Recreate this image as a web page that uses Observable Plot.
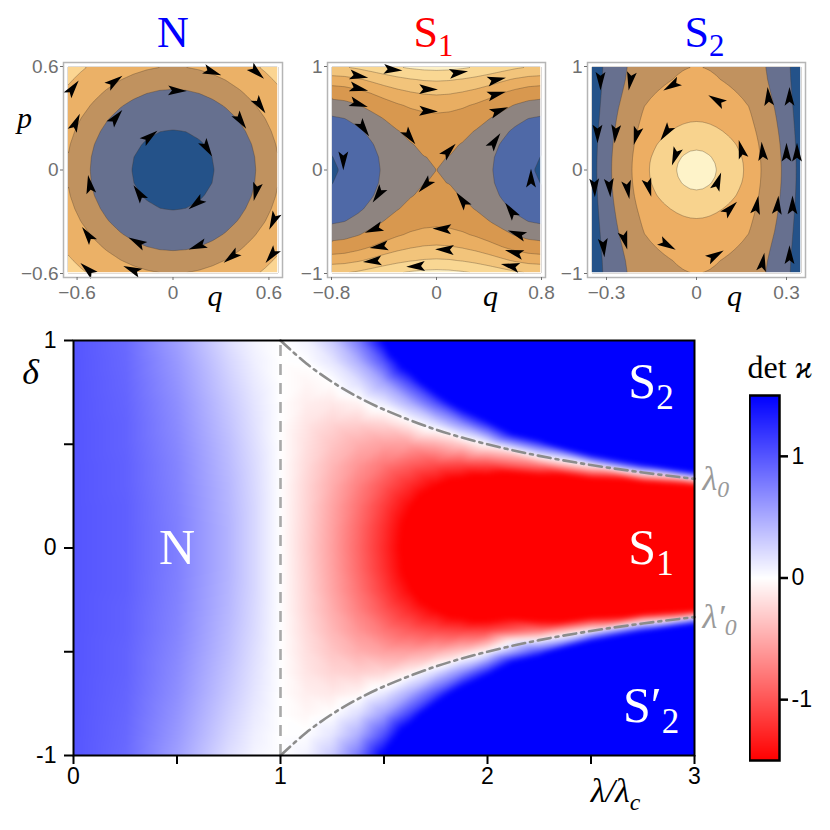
<!DOCTYPE html>
<html><head><meta charset="utf-8">
<script src="https://cdn.jsdelivr.net/npm/d3@7"></script>
<script src="https://cdn.jsdelivr.net/npm/@observablehq/plot@0.6"></script>
<style>
html,body{margin:0;padding:0;background:#fff;}
#chart{position:relative;width:830px;height:830px;overflow:hidden;background:#fff;}
#chart svg{position:absolute;background:transparent;max-width:none;}
</style></head>
<body><div id="chart"></div>
<script>
// ================= DATA =================
// main map: det(kappa) read over lambda/lambda_c (rows) and |delta| (columns)
const lambdaGrid = [0, 0.25, 0.5, 0.75, 0.875, 1, 1.125, 1.25, 1.375, 1.5, 1.625, 1.75, 1.875, 2, 2.25, 2.5, 2.75, 3];
const deltaGrid = [0, 0.1, 0.2, 0.3, 0.4, 0.5, 0.6, 0.7, 0.8, 0.9, 1];
const detRows = [
  [1, 1, 1, 1, 1, 1, 1, 1, 1, 1, 1],
  [0.94, 0.94, 0.94, 0.93, 0.93, 0.92, 0.92, 0.91, 0.9, 0.89, 0.88],
  [0.75, 0.75, 0.74, 0.73, 0.72, 0.7, 0.68, 0.66, 0.63, 0.6, 0.56],
  [0.44, 0.44, 0.43, 0.42, 0.4, 0.38, 0.35, 0.32, 0.28, 0.24, 0.19],
  [0.23, 0.23, 0.23, 0.22, 0.21, 0.19, 0.17, 0.15, 0.12, 0.09, 0.06],
  [0, 0, 0, 0, 0, 0, 0, 0, 0, 0, 0],
  [-0.27, -0.26, -0.25, -0.24, -0.21, -0.18, -0.15, -0.1, -0.05, 0.01, 0.07],
  [-0.56, -0.55, -0.53, -0.48, -0.42, -0.34, -0.25, -0.13, 0, 0.15, 0.32],
  [-0.89, -0.87, -0.82, -0.74, -0.62, -0.47, -0.28, -0.07, 0.19, 0.47, 0.79],
  [-1.25, -1.22, -1.14, -1.0, -0.8, -0.55, -0.24, 0.13, 0.55, 1.03, 1.56],
  [-1.64, -1.6, -1.47, -1.25, -0.95, -0.56, -0.08, 0.48, 1.13, 1.87, 2.69],
  [-2.06, -2.0, -1.81, -1.49, -1.05, -0.48, 0.21, 1.03, 1.98, 3, 3],
  [-2.52, -2.43, -2.16, -1.72, -1.1, -0.31, 0.67, 1.82, 3, 3, 3],
  [-3, -2.88, -2.52, -1.92, -1.08, 0, 1.32, 2.88, 3, 3, 3],
  [-3, -3, -3, -2.21, -0.77, 1.08, 3, 3, 3, 3, 3],
  [-3, -3, -3, -2.3, 0, 2.95, 3, 3, 3, 3, 3],
  [-3, -3, -3, -2.1, 1.38, 3, 3, 3, 3, 3, 3],
  [-3, -3, -3, -1.52, 3, 3, 3, 3, 3, 3, 3]
];
// phase boundary lambda_0 (dash-dot) and critical coupling (dashed)
const boundaryLambda = [1, 1.125, 1.25, 1.375, 1.5, 1.75, 2, 2.25, 2.5, 2.75, 3];
const boundaryDelta = [1, 0.889, 0.8, 0.727, 0.667, 0.571, 0.5, 0.444, 0.4, 0.364, 0.333];
const criticalLambda = [1];
const xTicksMain = [0, 0.5, 1, 1.5, 2, 2.5, 3];
const yTicksMain = [-1, -0.5, 0, 0.5, 1];
const colorbarTicks = [-1, 0, 1];
const colorDomain = [-1.5, 0, 1.5];
const colorRange = ["#ff0000", "#ffffff", "#0000ff"];
const regionNames = ["N", "S_2", "S_1", "S′_2"];
const regionLambda = [0.5, 2.79, 2.79, 2.79];
const regionDelta = [0, 0.8, 0, -0.76];
const edgeNames = ["λ_0", "λ′_0"];
const edgeDelta = [0.333, -0.333];

// phase-space panels: separable energy samples (q part + p part), band levels, colors, arrows [q, p, heading°]
const nQ = [0, 0.0825, 0.165, 0.2475, 0.33, 0.4125, 0.495, 0.5775, 0.66];
const nQTerm = [0, 0.015, 0.062, 0.139, 0.247, 0.385, 0.555, 0.755, 0.986];
const nP = [0, 0.075, 0.15, 0.225, 0.3, 0.375, 0.45, 0.525, 0.6];
const nPTerm = [0, 0.016, 0.063, 0.141, 0.25, 0.391, 0.563, 0.766, 1.0];
const nLevels = [0.152, 0.61, 1.0, 1.653];
const nColors = ["#245289", "#66708f", "#c0925f", "#ebb167", "#fbd592"];
const nArrows = [[-0.63,0.47,37],[-0.61,0.27,24],[-0.37,0.51,54],[-0.36,0.30,40],[0.02,0.46,92],[0.24,0.57,110],[0.52,0.57,132],[0.54,0.38,145],[0.42,0.29,145],[-0.15,0.19,52],[0.21,0.13,148],[-0.52,-0.09,350],[-0.21,-0.14,326],[0.15,-0.19,232],[0.52,-0.12,193],[0.63,-0.29,205],[0.62,-0.49,218],[0.37,-0.50,233],[0.16,-0.44,250],[-0.22,-0.42,298],[-0.25,-0.58,293],[-0.53,-0.58,312],[-0.53,-0.38,324]];

const s1Q = [0, 0.1, 0.2, 0.3, 0.4, 0.5, 0.6, 0.7, 0.8];
const s1QTerm = [0, -0.021, -0.081, -0.175, -0.293, -0.421, -0.542, -0.633, -0.67];
const s1P = [0, 0.125, 0.25, 0.375, 0.5, 0.625, 0.75, 0.875, 1];
const s1PTerm = [0, 0.016, 0.066, 0.158, 0.304, 0.521, 0.833, 1.267, 1.856];
const s1Levels = [-0.65, -0.33, 0, 0.39, 0.77, 1.21, 1.68];
const s1Colors = ["#245289", "#4f69a7", "#8e8480", "#d8984f", "#e9ae62", "#f2c47b", "#f9d793", "#fdf0c6"];
const s1Arrows = [[-0.60,0.91,100],[-0.34,0.97,95],[0.16,0.94,82],[0.45,0.87,78],[-0.60,0.79,103],[-0.07,0.78,91],[0.45,0.73,75],[-0.60,0.64,108],[-0.07,0.57,92],[0.47,0.57,70],[0.44,0.27,35],[-0.56,0.41,145],[-0.71,0.10,180],[-0.21,0.33,143],[0.09,0.18,44],[-0.08,-0.14,224],[0.2,-0.3,323],[-0.44,-0.23,215],[-0.47,-0.57,250],[-0.43,-0.74,262],[-0.48,-0.88,265],[-0.15,-0.93,268],[0.05,-0.57,272],[0.07,-0.77,272],[0.62,-0.62,290],[0.6,-0.8,285],[0.57,-0.93,282],[0.57,-0.4,325],[0.72,-0.09,0]];

const s2Q = [0, 0.021875, 0.04375, 0.065625, 0.0875, 0.109375, 0.13125, 0.153125, 0.175, 0.21875, 0.2625, 0.30625, 0.35];
const s2QTerm = [0, 0.0075, 0.03, 0.068, 0.12, 0.18, 0.25, 0.34, 0.45, 1.05, 1.75, 2.8, 5.0];
const s2P = [0, 0.0625, 0.125, 0.1875, 0.25, 0.3125, 0.375, 0.4375, 0.5, 0.625, 0.75, 0.875, 1];
const s2PTerm = [0, 0.008, 0.03, 0.066, 0.11, 0.17, 0.24, 0.32, 0.40, 0.57, 0.74, 0.9, 1.0];
const s2Levels = [0.07, 0.36, 1.0, 2.24, 4.1];
const s2Colors = ["#fef3c9", "#f8d38e", "#edae63", "#c1925f", "#67708f", "#245289"];
const s2Arrows = [[-0.32,0.87,180],[-0.22,0.87,190],[-0.33,0.36,180],[-0.27,0.36,185],[-0.2,0.34,195],[-0.34,-0.16,178],[-0.29,-0.16,175],[-0.23,-0.18,170],[-0.31,-0.74,175],[-0.24,-0.67,165],[-0.08,0.82,240],[-0.1,0.37,215],[-0.16,-0.16,165],[-0.1,-0.72,120],[-0.07,0.14,200],[0.07,0.67,300],[0.15,0.19,345],[0.22,0.17,355],[0.3,0.16,0],[0.335,0.16,0],[0.24,0.7,355],[0.31,0.7,0],[0.07,-0.12,20],[0.11,-0.38,45],[0.2,-0.35,10],[0.27,-0.35,5],[0.32,-0.35,0],[0.06,-0.83,60],[0.22,-0.9,10],[0.31,-0.83,0]];

// ================= RENDERING =================
const serif = "'Liberation Serif', 'DejaVu Serif', serif";
const sans = "'Liberation Sans', Arial, Helvetica, sans-serif";
const chart = document.getElementById("chart");
const NS = "http://www.w3.org/2000/svg";

function richText(svg) {
  svg.querySelectorAll("text").forEach(t => {
    const s = t.textContent;
    if (!s.includes("_") && !s.includes("ϰ")) return;
    const fs = parseFloat(getComputedStyle(t).fontSize) || 16;
    t.textContent = "";
    let shift = 0;
    for (let i = 0; i < s.length; i++) {
      const ts = document.createElementNS(NS, "tspan");
      let target = 0;
      if (s[i] === "_") {
        ts.textContent = s[i + 1];
        ts.setAttribute("font-size", (fs * 0.7).toFixed(1));
        target = fs * 0.22;
        i++;
      } else {
        ts.textContent = s[i];
        if (s[i] === "ϰ") ts.setAttribute("font-style", "italic");
      }
      if (target !== shift) { ts.setAttribute("dy", (target - shift).toFixed(1)); shift = target; }
      t.appendChild(ts);
    }
  });
}

function place(svg, left, top) {
  svg.style.position = "absolute";
  svg.style.left = left + "px";
  svg.style.top = top + "px";
  svg.style.background = "transparent";
  chart.appendChild(svg);
  richText(svg);
}

function fieldTable(qs, qTerm, ps, pTerm) {
  const out = [];
  qs.forEach((q, i) => (q === 0 ? [1] : [-1, 1]).forEach(sq =>
    ps.forEach((p, j) => (p === 0 ? [1] : [-1, 1]).forEach(sp =>
      out.push({q: sq * q, p: sp * p, h: qTerm[i] + pTerm[j]})))));
  return out;
}

const dart = {
  draw(ctx, size) {
    const s = Math.sqrt(size / Math.PI);
    ctx.moveTo(0, -1.25 * s);
    ctx.lineTo(0.58 * s, 0.95 * s);
    ctx.lineTo(0, 0.5 * s);
    ctx.lineTo(-0.58 * s, 0.95 * s);
    ctx.closePath();
  }
};

const panelTick = d => d === 0 ? "0" : (d < 0 ? "−" : "") + Math.abs(d);

function makePanel(cfg) {
  const table = fieldTable(cfg.qs, cfg.qTerm, cfg.ps, cfg.pTerm);
  const bounds = {x1: cfg.xDomain[0], x2: cfg.xDomain[1], y1: cfg.yDomain[0], y2: cfg.yDomain[1]};
  const marks = [
    Plot.contour(table, {x: "q", y: "p", fill: "h", ...bounds, thresholds: [-1000, ...cfg.levels], interpolate: "barycentric", stroke: "none"}),
    Plot.contour(table, {x: "q", y: "p", value: "h", ...bounds, thresholds: cfg.levels, interpolate: "barycentric", fill: "none", stroke: "#3d3024", strokeOpacity: 0.45, strokeWidth: 0.7}),
    Plot.rect([cfg], {x1: d => d.xDomain[0], x2: d => d.xDomain[1], y1: d => d.yDomain[0], y2: d => d.yDomain[1], fill: "none", stroke: "white", strokeWidth: 1.6}),
    Plot.dot(cfg.arrows, {x: d => d[0], y: d => d[1], rotate: d => d[2], symbol: dart, r: 8.5, fill: "black", stroke: "none"}),
    Plot.frame({stroke: "#b5b5b5", strokeWidth: 1.5}),
    Plot.axisX({ticks: cfg.xTicks, tickFormat: panelTick, tickSize: 3, tickPadding: 5, fontSize: 19, color: "#6f6f6f", label: null}),
    Plot.axisY({ticks: cfg.yTicks, tickFormat: panelTick, tickSize: 3, tickPadding: 2, fontSize: 19, color: "#6f6f6f", label: null}),
    Plot.text([cfg.title], {frameAnchor: "top", lineAnchor: "middle", textAnchor: "middle", dy: -30, dx: cfg.titleDx, fill: cfg.titleColor, fontSize: 44, fontFamily: serif}),
    Plot.text(["q"], {frameAnchor: "bottom", lineAnchor: "middle", textAnchor: "middle", dx: cfg.qDx, dy: 19, fontSize: 30, fontStyle: "italic", fontFamily: serif, fill: "black"})
  ];
  if (cfg.showP) marks.push(Plot.text(["p"], {frameAnchor: "top-left", lineAnchor: "middle", textAnchor: "middle", dx: -39, dy: 56, fontSize: 30, fontStyle: "italic", fontFamily: serif, fill: "black"}));
  return Plot.plot({
    width: cfg.width, height: 320,
    marginLeft: cfg.marginLeft, marginRight: cfg.marginRight, marginTop: 62, marginBottom: 43,
    inset: 4,
    x: {domain: cfg.xDomain},
    y: {domain: cfg.yDomain},
    color: {type: "threshold", domain: cfg.levels, range: cfg.colors},
    style: {fontFamily: sans, background: "transparent"},
    marks
  });
}

place(makePanel({qs: nQ, qTerm: nQTerm, ps: nP, pTerm: nPTerm, levels: nLevels, colors: nColors, arrows: nArrows,
  xDomain: [-0.66, 0.66], yDomain: [-0.6, 0.6], xTicks: [-0.6, 0, 0.6], yTicks: [-0.6, 0, 0.6],
  title: "N", titleColor: "#0000ff", titleDx: 0, qDx: 42, showP: true,
  width: 290, marginLeft: 63, marginRight: 8}), 0, 0);

place(makePanel({qs: s1Q, qTerm: s1QTerm, ps: s1P, pTerm: s1PTerm, levels: s1Levels, colors: s1Colors, arrows: s1Arrows,
  xDomain: [-0.8, 0.8], yDomain: [-1, 1], xTicks: [-0.8, 0, 0.8], yTicks: [-1, 0, 1],
  title: "S_1", titleColor: "#ff0000", titleDx: -3, qDx: 54, showP: false,
  width: 265, marginLeft: 37, marginRight: 10}), 290, 0);

place(makePanel({qs: s2Q, qTerm: s2QTerm, ps: s2P, pTerm: s2PTerm, levels: s2Levels, colors: s2Colors, arrows: s2Arrows,
  xDomain: [-0.35, 0.35], yDomain: [-1, 1], xTicks: [-0.3, 0, 0.3], yTicks: [-1, 0, 1],
  title: "S_2", titleColor: "#0000ff", titleDx: 8, qDx: 38, showP: false,
  width: 275, marginLeft: 32, marginRight: 25}), 555, 0);

// ---- main map ----
const heat = [];
lambdaGrid.forEach((lam, i) => deltaGrid.forEach((d, j) => {
  heat.push({lam, del: d, v: detRows[i][j]});
  if (d !== 0) heat.push({lam, del: -d, v: detRows[i][j]});
}));
const boundary = [];
boundaryLambda.forEach((l, i) => boundary.push({l, d: boundaryDelta[i], side: "upper"}));
boundaryLambda.forEach((l, i) => boundary.push({l, d: -boundaryDelta[i], side: "lower"}));
const regions = regionNames.map((t, i) => ({t, x: regionLambda[i], y: regionDelta[i]}));
const edges = edgeNames.map((t, i) => ({t, y: edgeDelta[i]}));
const colorOpts = {type: "linear", domain: colorDomain, range: colorRange, interpolate: "rgb", clamp: true};

const main = Plot.plot({
  width: 830, height: 510,
  marginLeft: 73, marginRight: 136, marginTop: 20, marginBottom: 75,
  x: {domain: [0, 3]},
  y: {domain: [-1, 1]},
  color: colorOpts,
  style: {fontFamily: sans, background: "transparent"},
  marks: [
    Plot.raster(heat, {x: "lam", y: "del", fill: "v", interpolate: "barycentric", blur: 2}),
    Plot.ruleX(criticalLambda, {y1: -1, y2: 1, stroke: "#a9a9a9", strokeWidth: 2.6, strokeDasharray: "11,8"}),
    Plot.line(boundary, {x: "l", y: "d", z: "side", curve: "catmull-rom", stroke: "#8c8c8c", strokeWidth: 2.6, strokeDasharray: "13,5,3,5"}),
    Plot.frame({stroke: "black", strokeWidth: 2}),
    Plot.axisX({ticks: xTicksMain, tickSize: 9, tickPadding: 3, fontSize: 23, strokeWidth: 2, color: "black",
      tickFormat: d => Number.isInteger(d) ? String(d) : "", label: null}),
    Plot.axisY({ticks: yTicksMain, tickSize: 9, tickPadding: 8, fontSize: 23, strokeWidth: 2, color: "black",
      tickFormat: d => Number.isInteger(d) ? String(d) : "", label: null}),
    Plot.text(regions, {x: "x", y: "y", text: "t", fill: "white", fontSize: 50, fontFamily: serif}),
    Plot.text(edges, {y: "y", text: "t", frameAnchor: "right", dx: 8, textAnchor: "start", fill: "#9a9a9a", fontSize: 34, fontStyle: "italic", fontFamily: serif}),
    Plot.text(["δ"], {frameAnchor: "top-left", lineAnchor: "middle", textAnchor: "middle", dx: -43, dy: 32, fontSize: 36, fontStyle: "italic", fontFamily: serif, fill: "black"}),
    Plot.text(["λ/λ_c"], {frameAnchor: "bottom-right", lineAnchor: "middle", textAnchor: "middle", dx: -79, dy: 36, fontSize: 34, fontStyle: "italic", fontFamily: serif, fill: "black"}),
    Plot.text(["det ϰ"], {frameAnchor: "top-right", lineAnchor: "middle", textAnchor: "start", dx: 53, dy: 27, fontSize: 32, fontFamily: serif, fill: "black"})
  ]
});
place(main, 0, 320);

// ---- colour bar ----
const cbar = Plot.plot({
  width: 81, height: 385,
  marginLeft: 0, marginRight: 51, marginTop: 10, marginBottom: 10,
  x: {domain: [0, 1], axis: null},
  y: {domain: [colorDomain[0], colorDomain[2]]},
  color: colorOpts,
  style: {fontFamily: sans, background: "transparent"},
  marks: [
    Plot.raster({x1: 0, x2: 1, y1: colorDomain[0], y2: colorDomain[2], fill: (x, y) => y}),
    Plot.frame({stroke: "black", strokeWidth: 2.5}),
    Plot.axisY({anchor: "right", ticks: colorbarTicks, tickSize: 8, tickPadding: 4, fontSize: 23, strokeWidth: 2.5, color: "black",
      tickFormat: d => String(d), label: null})
  ]
});
place(cbar, 749, 385);
</script>
</body></html>
